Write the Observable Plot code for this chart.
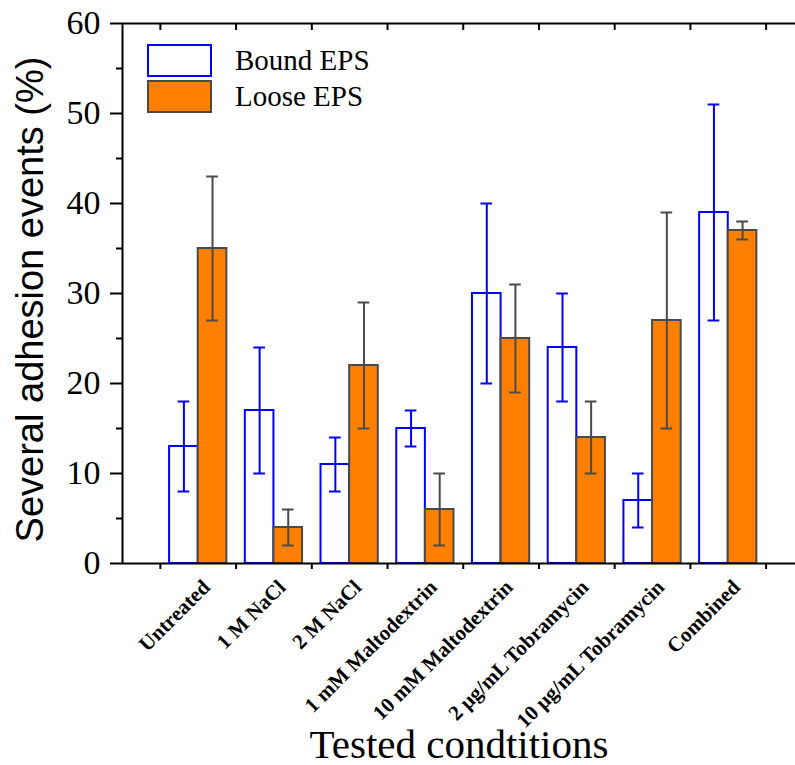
<!DOCTYPE html>
<html><head><meta charset="utf-8">
<script src="https://cdn.jsdelivr.net/npm/d3@7"></script>
<script src="https://cdn.jsdelivr.net/npm/@observablehq/plot@0.6"></script>
<style>
body{margin:0;background:#fff;}
#wrap{position:relative;width:795px;height:765px;}
.sw{position:absolute;box-sizing:border-box;width:65px;height:33px;}
.lt{position:absolute;left:235px;height:33px;line-height:33px;font-family:"Times New Roman","Liberation Serif",serif;font-size:29px;color:#000;white-space:nowrap;}
</style>
</head><body>
<div id="wrap"></div>
<script>
const categories = ["Untreated","1 M NaCl","2 M NaCl","1 mM Maltodextrin","10 mM Maltodextrin","2 μg/mL Tobramycin","10 μg/mL Tobramycin","Combined"];
const boundMean = [13,17,11,15,30,24,7,39];
const boundErr  = [5,7,3,2,10,6,3,12];
const looseMean = [35,4,22,6,25,14,27,37];
const looseErr  = [8,2,7,4,6,4,12,1];
const yTicks = [0,10,20,30,40,50,60];
const yMinorTicks = [5,15,25,35,45,55];
const seriesNames = ["Bound EPS","Loose EPS"];

const BLUE = "#0000ff", ORANGE = "#ff8000", GRAY = "#4a4a4a";
const BW = 0.378;   // bar width in group units
const CAP = 0.077;  // half cap width in group units
const xDomain = [-1, 7.888];
const boundaries = d3.range(categories.length + 1).map(i => i - 0.5);

const bound = categories.map((c,i) => ({i, c, v: boundMean[i], lo: boundMean[i]-boundErr[i], hi: boundMean[i]+boundErr[i], xc: i - BW/2}));
const loose = categories.map((c,i) => ({i, c, v: looseMean[i], lo: looseMean[i]-looseErr[i], hi: looseMean[i]+looseErr[i], xc: i + BW/2}));

const serif = '"Times New Roman","Liberation Serif",serif';
const sans = 'Arial,"Liberation Sans",sans-serif';

const chart = Plot.plot({
  width: 795, height: 765,
  marginTop: 23, marginBottom: 202, marginLeft: 122, marginRight: 0,
  style: {fontFamily: serif, background: "#fff", color: "#000", overflow: "visible"},
  x: {type: "linear", domain: xDomain},
  y: {domain: [0, 60]},
  marks: [
    Plot.rectY(bound, {x1: d => d.i - BW, x2: d => d.i, y1: 0, y2: "v", fill: "#fff", stroke: BLUE, strokeWidth: 2}),
    Plot.rectY(loose, {x1: d => d.i, x2: d => d.i + BW, y1: 0, y2: "v", fill: ORANGE, stroke: GRAY, strokeWidth: 2}),
    Plot.ruleX(bound, {x: "xc", y1: "lo", y2: "hi", stroke: BLUE, strokeWidth: 2}),
    Plot.ruleY(bound, {y: "hi", x1: d => d.xc - CAP, x2: d => d.xc + CAP, stroke: BLUE, strokeWidth: 2}),
    Plot.ruleY(bound, {y: "lo", x1: d => d.xc - CAP, x2: d => d.xc + CAP, stroke: BLUE, strokeWidth: 2}),
    Plot.ruleX(loose, {x: "xc", y1: "lo", y2: "hi", stroke: GRAY, strokeWidth: 2}),
    Plot.ruleY(loose, {y: "hi", x1: d => d.xc - CAP, x2: d => d.xc + CAP, stroke: GRAY, strokeWidth: 2}),
    Plot.ruleY(loose, {y: "lo", x1: d => d.xc - CAP, x2: d => d.xc + CAP, stroke: GRAY, strokeWidth: 2}),
    Plot.ruleY([0, 60], {stroke: "#000", strokeWidth: 2}),
    Plot.ruleX([xDomain[0]], {stroke: "#000", strokeWidth: 2}),
    Plot.axisY({ticks: yTicks, tickSize: 12, tickPadding: 10, fontSize: 34, strokeWidth: 2, label: null, fontFamily: serif}),
    Plot.axisY({ticks: yMinorTicks, tickSize: 6, tickFormat: () => "", strokeWidth: 2, label: null}),
    Plot.axisX({anchor: "bottom", ticks: boundaries, tickSize: 6, tickFormat: () => "", strokeWidth: 2, label: null}),
    Plot.axisX({anchor: "top", ticks: boundaries, tickSize: -6, tickFormat: () => "", strokeWidth: 2, label: null}),
    Plot.text(categories, {x: (d,i) => i, text: d => d, frameAnchor: "bottom", rotate: -45, textAnchor: "end", lineAnchor: "bottom", dx: 13, dy: 25, fontSize: 21, fontWeight: "bold", fontFamily: serif}),
    Plot.text(["Several adhesion events (%)"], {frameAnchor: "left", textAnchor: "middle", rotate: -90, dx: -92, dy: 6, fontSize: 38, fontFamily: sans}),
    Plot.text(["Tested condtitions"], {frameAnchor: "bottom", lineAnchor: "bottom", dy: 194, fontSize: 41, fontFamily: serif})
  ]
});

const wrap = document.getElementById("wrap");
wrap.appendChild(chart);
const legendStyles = [
  {top: 44, bg: "#fff", border: BLUE},
  {top: 80, bg: ORANGE, border: GRAY}
];
seriesNames.forEach((name, k) => {
  const s = legendStyles[k];
  const sw = document.createElement("div");
  sw.className = "sw";
  sw.style.left = "147px"; sw.style.top = s.top + "px";
  sw.style.background = s.bg; sw.style.border = "2px solid " + s.border;
  wrap.appendChild(sw);
  const t = document.createElement("div");
  t.className = "lt"; t.style.top = s.top + "px";
  t.textContent = name;
  wrap.appendChild(t);
});
</script>
</body></html>
